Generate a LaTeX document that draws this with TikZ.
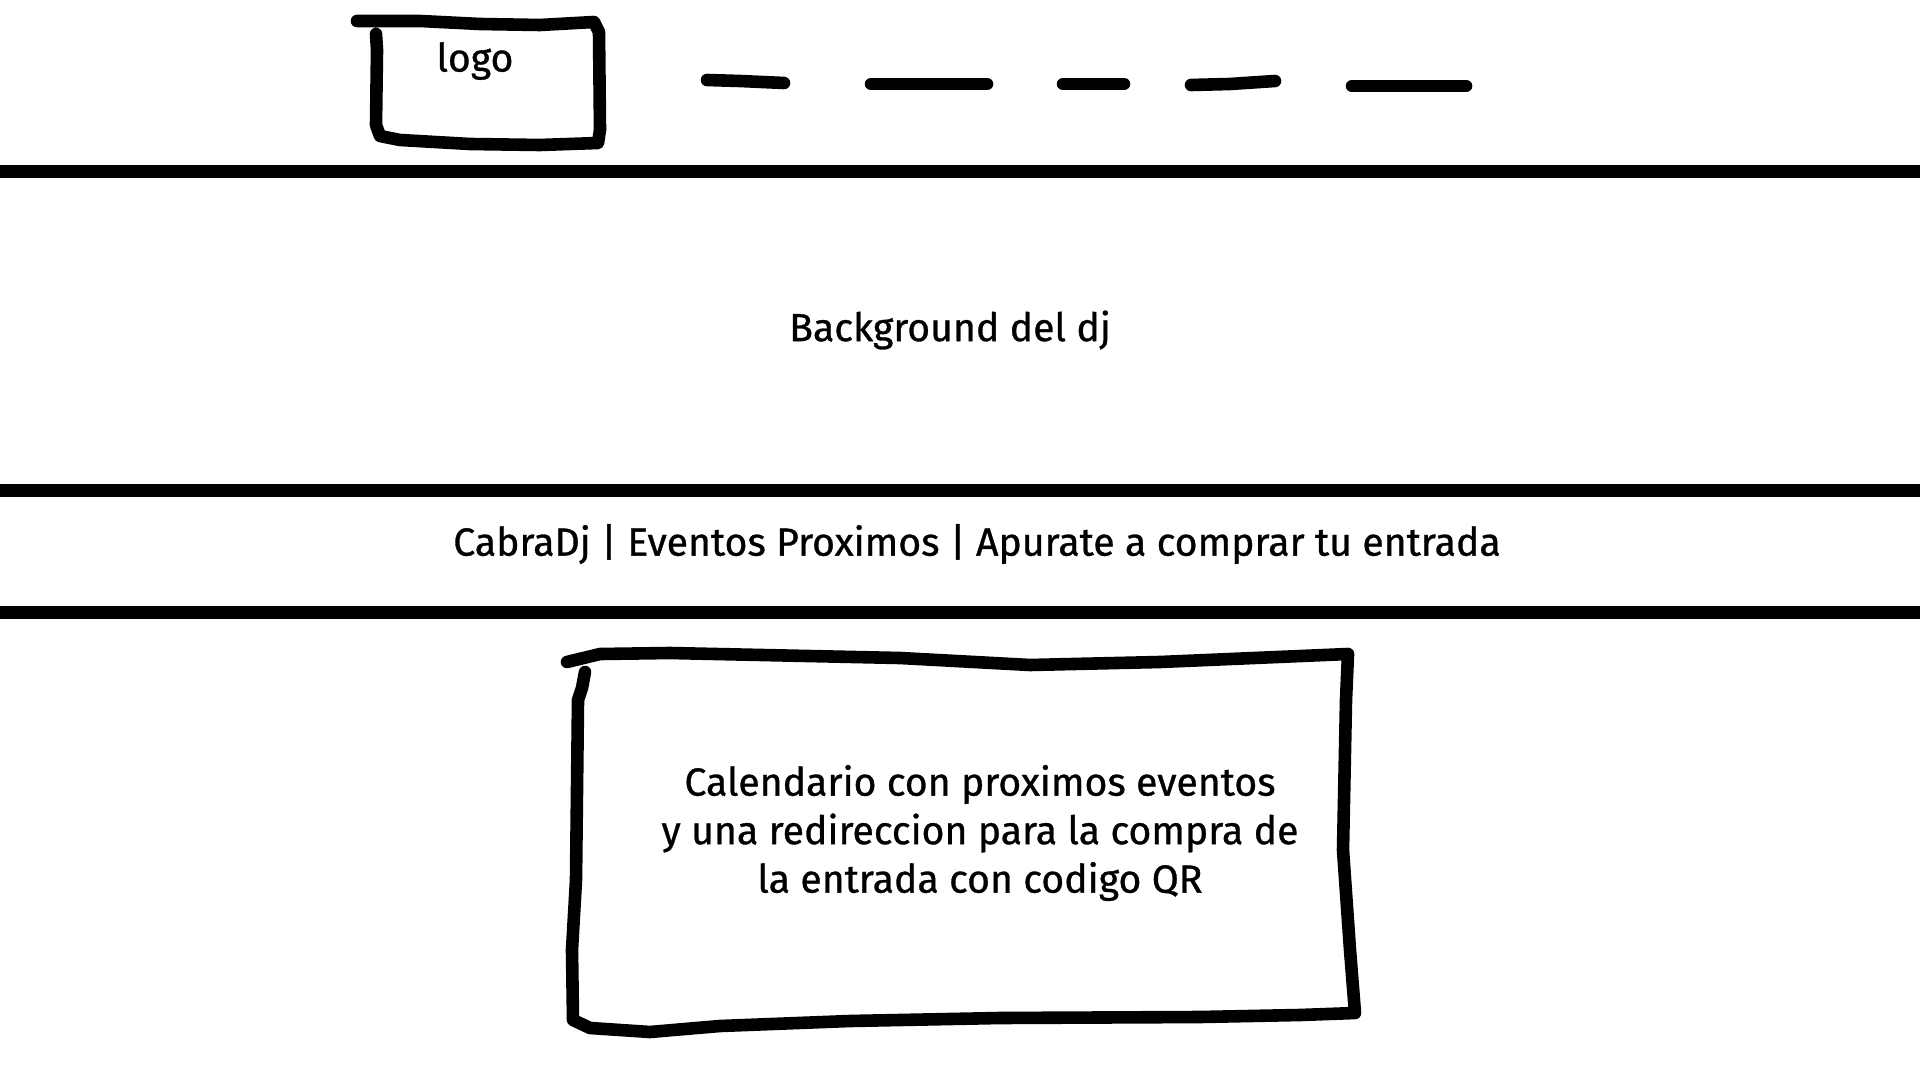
\documentclass[tikz,border=0pt]{standalone}
\usepackage{fontspec}
\setmainfont{Fira Sans}[FakeBold=0.8]
\begin{document}
\begin{tikzpicture}[x=0.5pt,y=-0.5pt,
  sep/.style={line width=6.5pt,black},
  sketch/.style={line width=6.3pt,line cap=round,line join=round,black},
  lbl/.style={font=\fontsize{19.6}{24.25}\selectfont,inner sep=0pt,align=center}]
\useasboundingbox[fill=white] (0,0) rectangle (1920,1080);
% separators
\draw[sep] (0,172) -- (1920,172);
\draw[sep] (0,490) -- (1920,490);
\draw[sep] (0,612) -- (1920,612);
% logo box
\draw[sketch] (357,21) -- (420,21) -- (480,24) -- (540,25) -- (594,22)
  -- (599,32) -- (600,130) -- (598,143) -- (540,145) -- (470,144) -- (400,140)
  -- (380,136) -- (376,125) -- (377,50) -- (376,34);
\node[lbl] (logo) at (475,61) {logo};
% nav dashes
\draw[sketch] (707,80) -- (740,81) -- (784,83);
\draw[sketch] (871,84) -- (987,84);
\draw[sketch] (1063,84) -- (1124,84);
\draw[sketch] (1191,85) -- (1230,84) -- (1275,81);
\draw[sketch] (1352,86) -- (1466,86);
% texts
\node[lbl] (bg) at (950,330) {Background del dj};
\node[lbl] (bar) at (977,544) {CabraDj | Eventos Proximos | Apurate a comprar tu entrada};
% calendar box
\draw[sketch] (567,662) -- (600,654) -- (670,653) -- (900,658) -- (1030,665)
  -- (1160,662) -- (1348,654) -- (1346,700) -- (1343,850) -- (1350,950)
  -- (1355,1013) -- (1300,1015) -- (1200,1017) -- (1000,1018) -- (850,1021)
  -- (720,1026) -- (650,1032) -- (590,1028) -- (573,1020) -- (572,950)
  -- (576,880) -- (578,700) -- (582,688) -- (585,672);
\node[lbl] (cal) at (980,833) {Calendario con proximos eventos\\y una redireccion para la compra de\\la entrada con codigo QR};
\end{tikzpicture}
\end{document}
